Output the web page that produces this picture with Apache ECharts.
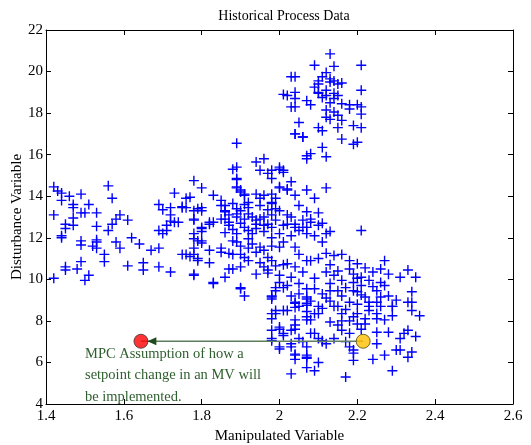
<!DOCTYPE html>
<html><head><meta charset="utf-8">
<script src="https://cdn.jsdelivr.net/npm/echarts@6/dist/echarts.min.js"></script>
<style>html,body{margin:0;padding:0;background:#fff}#c{width:531px;height:445px}</style>
</head><body><div id="c"></div>
<script>
const titleText = 'Historical Process Data';
const xName = 'Manipulated Variable';
const yName = 'Disturbance Variable';
const xTicks = {min: 1.4, max: 2.6, interval: 0.2};
const yTicks = {min: 4, max: 22, interval: 2};

const leftPoints = [[1.42,14.45],[1.43,14.25],[1.44,14.15],[1.46,14.0],[1.44,13.8],[1.49,14.1],[1.56,14.5],[1.57,13.9],[1.47,13.6],[1.47,13.45],[1.51,13.6],[1.42,13.1],[1.49,13.2],[1.50,13.2],[1.53,13.2],[1.47,12.95],[1.45,12.65],[1.47,12.6],[1.53,12.55],[1.45,12.45],[1.44,12.1],[1.44,12.0],[1.59,13.1],[1.58,12.9],[1.61,12.85],[1.57,12.65],[1.56,12.35],[1.49,11.85],[1.49,11.65],[1.53,11.8],[1.53,11.9],[1.52,11.6],[1.53,11.5],[1.58,11.8],[1.59,11.5],[1.62,12.0],[1.64,11.7],[1.67,11.4],[1.69,11.5],[1.55,11.2],[1.55,10.85],[1.61,10.65],[1.65,10.8],[1.65,10.45],[1.69,10.6],[1.72,10.35],[1.45,10.6],[1.45,10.45],[1.48,10.5],[1.49,10.85],[1.51,10.2],[1.42,10.05],[1.50,9.95],[1.73,14.15],[1.69,13.6],[1.70,13.35],[1.72,13.45],[1.75,13.45],[1.76,13.9],[1.72,13.1],[1.72,12.8],[1.73,12.75],[1.74,12.75],[1.71,12.6],[1.69,12.35],[1.71,12.35],[1.70,12.2],[1.75,11.2]];

const bridgePoints = [[1.78,14.75],[1.80,14.4],[1.83,14.05],[1.77,13.95],[1.75,13.5],[1.78,13.3],[1.79,13.4],[1.80,13.3],[1.85,13.8],[1.85,13.55],[1.86,13.25],[1.78,12.85],[1.80,12.5],[1.80,12.3],[1.83,12.75],[1.85,12.9],[1.78,11.95],[1.79,11.85],[1.80,11.75],[1.78,11.5],[1.82,11.4],[1.85,11.5],[1.77,11.1],[1.79,11.0],[1.82,10.8],[1.87,11.25],[1.78,10.2],[1.83,9.8],[1.86,10.1],[1.88,10.5],[1.90,10.6],[1.90,9.6],[1.91,9.2],[1.76,13.45],[1.78,12.9],[1.82,12.75],[1.78,12.2],[1.80,12.45],[1.80,11.85],[1.82,12.65],[1.76,11.2],[1.78,11.2],[1.79,10.9],[1.78,10.25],[1.83,9.85],[1.87,10.5],[1.90,9.55],[1.86,12.25],[1.87,12.6],[1.85,11.3],[1.88,11.85],[1.88,11.2]];

const midPoints = [[1.89,16.55],[1.88,15.3],[1.89,15.4],[1.89,14.85],[1.89,14.45],[1.90,14.3],[1.91,14.1],[1.94,15.65],[1.96,15.8],[1.95,15.25],[1.97,15.1],[1.98,14.85],[2.00,15.3],[2.01,15.25],[2.00,14.45],[2.02,14.35],[2.04,17.0],[2.06,16.85],[2.07,15.8],[1.98,15.25],[2.01,15.15],[2.03,14.7],[2.07,14.3],[2.00,14.4],[2.02,14.3],[1.89,14.8],[1.89,14.4],[1.90,14.2],[1.91,14.05],[1.94,14.1],[1.96,14.05],[1.98,14.1],[2.04,14.05],[2.05,13.55],[2.07,13.25],[1.86,13.55],[1.88,13.65],[1.89,13.4],[1.90,13.3],[1.92,13.7],[1.92,13.45],[1.95,13.9],[1.95,13.55],[1.98,13.65],[1.98,13.7],[1.99,13.4],[2.00,13.3],[2.02,13.1],[1.80,13.45],[1.86,13.3],[1.86,12.9],[1.87,12.75],[1.89,13.0],[1.89,13.15],[1.91,12.9],[1.92,13.15],[1.94,12.85],[1.95,12.9],[1.97,12.65],[1.98,13.1],[1.99,12.85],[2.01,12.6],[2.04,12.65],[2.04,12.5],[2.06,12.85],[1.89,12.2],[1.89,11.8],[1.92,11.95],[1.92,11.5],[1.90,11.2],[1.91,11.05],[1.92,10.9],[1.94,11.3],[1.95,11.55],[1.95,10.8],[1.96,11.4],[1.98,11.6],[1.98,12.0],[2.01,11.8],[2.00,11.55],[2.02,12.65],[2.03,12.1],[2.05,12.35],[2.04,11.55],[2.05,11.2],[2.07,12.5],[2.07,10.9],[1.94,12.65],[1.96,12.6],[1.98,12.5],[1.92,12.35],[1.97,11.05],[2.07,15.95],[2.09,13.9],[2.10,13.2],[2.08,12.9],[2.11,12.7],[2.12,14.4],[2.13,12.3],[1.88,12.4],[1.90,12.7],[1.91,12.5],[1.93,12.2],[1.94,12.45],[1.96,12.3],[1.93,13.0],[1.97,13.35],[1.99,13.9],[1.91,13.6],[1.87,13.1],[1.93,11.7],[1.90,11.6],[2.03,13.0],[2.00,12.2],[1.96,13.0]];

const lowerPoints = [[1.94,10.25],[1.96,10.6],[1.97,10.45],[1.98,10.9],[1.99,10.65],[1.97,10.3],[2.02,10.75],[2.03,10.1],[2.04,10.6],[2.00,9.85],[2.01,9.6],[1.99,9.45],[1.98,9.05],[2.03,9.2],[2.05,9.3],[2.04,8.9],[2.07,9.05],[2.02,8.5],[1.99,8.5],[1.98,8.35],[1.98,8.1],[2.07,8.75],[2.07,8.05],[1.98,9.2],[2.00,10.2],[2.01,10.7],[2.02,9.7],[1.99,9.6],[1.98,9.15],[2.06,12.5],[2.08,12.75],[2.10,12.6],[2.09,12.1],[2.07,12.2],[2.12,12.2],[2.11,11.8],[2.21,12.35],[2.12,11.25],[2.14,11.15],[2.16,11.2],[2.08,10.9],[2.10,11.0],[2.13,10.7],[2.12,10.35],[2.14,10.2],[2.18,10.9],[2.20,10.75],[2.18,10.5],[2.19,10.25],[2.27,10.9],[2.26,10.5],[2.28,10.25],[2.24,10.35],[2.21,10.1],[2.16,9.95],[2.19,9.85],[2.23,9.95],[2.26,9.85],[2.27,9.7],[2.33,10.45],[2.31,10.1],[2.35,10.1],[2.34,9.4],[2.33,8.9],[2.06,10.35],[2.05,9.8],[2.07,9.55],[2.09,9.55],[2.13,9.8],[2.13,9.45],[2.11,9.3],[2.15,9.45],[2.16,9.2],[2.19,9.45],[2.20,9.4],[2.21,9.7],[2.22,9.15],[2.25,9.45],[2.26,9.15],[2.28,9.2],[2.29,8.7],[2.08,8.95],[2.10,8.7],[2.13,8.95],[2.15,8.7],[2.18,8.9],[2.20,8.8],[2.23,8.9],[2.26,8.7],[2.01,8.5],[2.04,7.8],[2.04,7.6],[2.00,7.6],[2.01,7.4],[1.98,7.05],[2.00,6.65],[2.03,6.9],[2.05,7.15],[2.06,7.0],[2.09,7.4],[2.11,7.05],[2.04,6.4],[2.04,6.15],[2.07,6.35],[2.07,6.2],[2.10,6.0],[2.07,5.75],[2.09,5.6],[2.03,5.45],[2.17,5.3],[2.16,7.55],[2.18,7.4],[2.17,7.0],[2.18,6.75],[2.19,6.6],[2.19,6.45],[2.19,6.1],[2.25,6.9],[2.24,6.15],[2.27,6.35],[2.29,5.6],[2.30,6.6],[2.31,6.6],[2.33,6.25],[2.34,6.5],[2.31,7.15],[2.35,7.25],[2.32,7.4],[2.33,7.55],[2.28,7.45],[2.25,7.45],[2.27,8.05],[2.25,8.35],[2.29,8.25],[2.34,8.5],[2.36,8.25],[2.34,8.9],[2.21,7.6],[2.22,7.85],[2.20,7.85],[2.15,7.8],[2.13,7.95],[2.16,8.35],[2.20,8.35],[2.22,8.1],[2.14,8.7],[2.10,8.35],[2.09,8.35],[2.07,8.2],[2.05,8.7],[2.07,8.85],[2.04,8.85],[2.14,7.15],[2.12,6.9],[2.16,8.0],[2.18,8.0],[2.23,8.7],[2.29,8.7],[2.25,8.9],[2.00,7.7],[2.01,7.3],[1.99,8.35],[1.98,7.55],[1.98,7.15],[2.00,6.75],[2.03,6.75],[2.07,6.75],[2.04,6.35],[2.07,6.25],[2.03,7.55],[2.04,8.05],[2.04,8.65],[2.07,9.15],[2.07,8.45],[2.08,8.05],[2.08,7.4],[2.10,7.15],[2.11,7.0],[2.17,9.6],[2.21,9.25],[2.23,8.5],[2.11,8.6],[2.19,8.2],[2.24,9.65],[2.20,10.05],[2.09,10.05],[2.15,10.4],[2.22,10.55],[2.12,9.1],[2.25,8.1],[2.30,9.0],[2.17,8.55]];

const topPoints = [[2.13,20.85],[2.09,20.3],[2.14,20.25],[2.21,20.3],[2.04,19.75],[2.12,19.95],[2.10,19.55],[2.10,19.4],[2.11,19.75],[2.13,19.65],[2.13,19.5],[2.14,19.55],[2.15,19.4],[2.16,19.45],[2.09,19.25],[2.10,19.0],[2.10,18.95],[2.12,19.1],[2.11,18.75],[2.12,18.85],[2.14,18.95],[2.15,18.85],[2.14,18.7],[2.02,18.85],[2.04,19.0],[2.04,18.7],[2.04,18.3],[2.07,18.6],[2.08,18.4],[2.21,19.1],[2.13,18.5],[2.16,18.45],[2.18,18.4],[2.20,18.4],[2.21,18.3],[2.18,18.2],[2.21,17.95],[2.12,18.15],[2.14,18.05],[2.12,17.8],[2.13,17.7],[2.15,17.9],[2.16,17.65],[2.19,17.4],[2.21,17.3],[2.15,17.3],[2.05,17.55],[2.10,17.3],[2.11,17.15],[2.04,17.0],[2.06,16.85],[2.16,16.75],[2.19,16.5],[2.20,16.6],[2.11,16.35],[2.08,16.05],[2.12,15.9],[2.00,15.4],[2.01,18.9],[2.03,19.75],[2.03,18.3]];

const mpcStart = [2.215, 7.02];   // yellow marker (current operating point)
const mpcEnd = [1.644, 7.02];     // red marker (assumed setpoint)
const annotationLines = ['MPC Assumption of how a', 'setpoint change in an MV will', 'be implemented.'];

const allPoints = leftPoints.concat(bridgePoints, midPoints, lowerPoints, topPoints);

const chart = echarts.init(document.getElementById('c'), null, {renderer: 'canvas'});
const serif = '"Liberation Serif", "Times New Roman", serif';
const plusPath = 'path://M0,-1L0,1M-1,0L1,0';
const axisCommon = {
  axisLine: {show: true, lineStyle: {color: '#000', width: 1}},
  axisTick: {show: true, inside: true, length: 5, lineStyle: {color: '#000'}},
  splitLine: {show: false}
};
const option = {
  animation: false,
  backgroundColor: '#fff',
  title: {text: titleText, left: 279, top: 4, textAlign: 'center',
    textStyle: {fontFamily: serif, fontSize: 14, fontWeight: 'normal', color: '#000'}},
  grid: {left: 46, right: 18, top: 30, bottom: 41, containLabel: false, outerBoundsMode: 'none'},
  xAxis: [
    Object.assign({type: 'value', min: xTicks.min, max: xTicks.max, interval: xTicks.interval,
      name: xName, nameLocation: 'middle', nameGap: 25, nameMoveOverlap: false,
      nameTextStyle: {fontFamily: serif, fontSize: 15, color: '#000'},
      axisLabel: {fontFamily: serif, fontSize: 15, color: '#000', margin: 5}}, axisCommon),
    Object.assign({type: 'value', position: 'top', min: xTicks.min, max: xTicks.max, interval: xTicks.interval,
      axisLabel: {show: false}}, axisCommon)
  ],
  yAxis: [
    Object.assign({type: 'value', min: yTicks.min, max: yTicks.max, interval: yTicks.interval,
      name: yName, nameLocation: 'middle', nameGap: 21, nameMoveOverlap: false,
      nameTextStyle: {fontFamily: serif, fontSize: 15, color: '#000'},
      axisLabel: {fontFamily: serif, fontSize: 15, color: '#000', margin: 3}}, axisCommon),
    Object.assign({type: 'value', position: 'right', min: yTicks.min, max: yTicks.max, interval: yTicks.interval,
      axisLabel: {show: false}}, axisCommon)
  ],
  series: [
    {type: 'scatter', data: allPoints, symbol: plusPath, symbolSize: 10, silent: true,
      itemStyle: {color: 'none', borderColor: '#0000ff', borderWidth: 1.4, opacity: 1}},
    {type: 'line', data: [mpcStart, mpcEnd], symbol: 'none', silent: true, z: 3,
      lineStyle: {color: '#5e7f5e', width: 1.5},
      markLine: {silent: true, symbol: ['none', 'triangle'], symbolSize: [8, 9], symbolOffset: [0, 0],
        label: {show: false},
        lineStyle: {color: '#1e4a1e', width: 0, type: 'solid'},
        data: [[{coord: [mpcStart[0] - 0.02, mpcStart[1]]}, {coord: [mpcEnd[0] + 0.028, mpcEnd[1]]}]]}},
    {type: 'scatter', data: [mpcEnd], symbol: 'circle', symbolSize: 14, z: 5, silent: true,
      itemStyle: {color: '#ff0000', borderColor: '#3a3a3a', borderWidth: 1}},
    {type: 'scatter', data: [mpcStart], symbol: 'circle', symbolSize: 14, z: 5, silent: true,
      itemStyle: {color: '#ffc000', borderColor: '#4a4a1a', borderWidth: 1}}
  ],
  graphic: [{type: 'text', left: 85, top: 343, silent: true,
    style: {text: annotationLines.join('\n'), fill: '#2e5e2e', font: '14.5px ' + serif, lineHeight: 21.5}}]
};
chart.setOption(option);
</script></body></html>
